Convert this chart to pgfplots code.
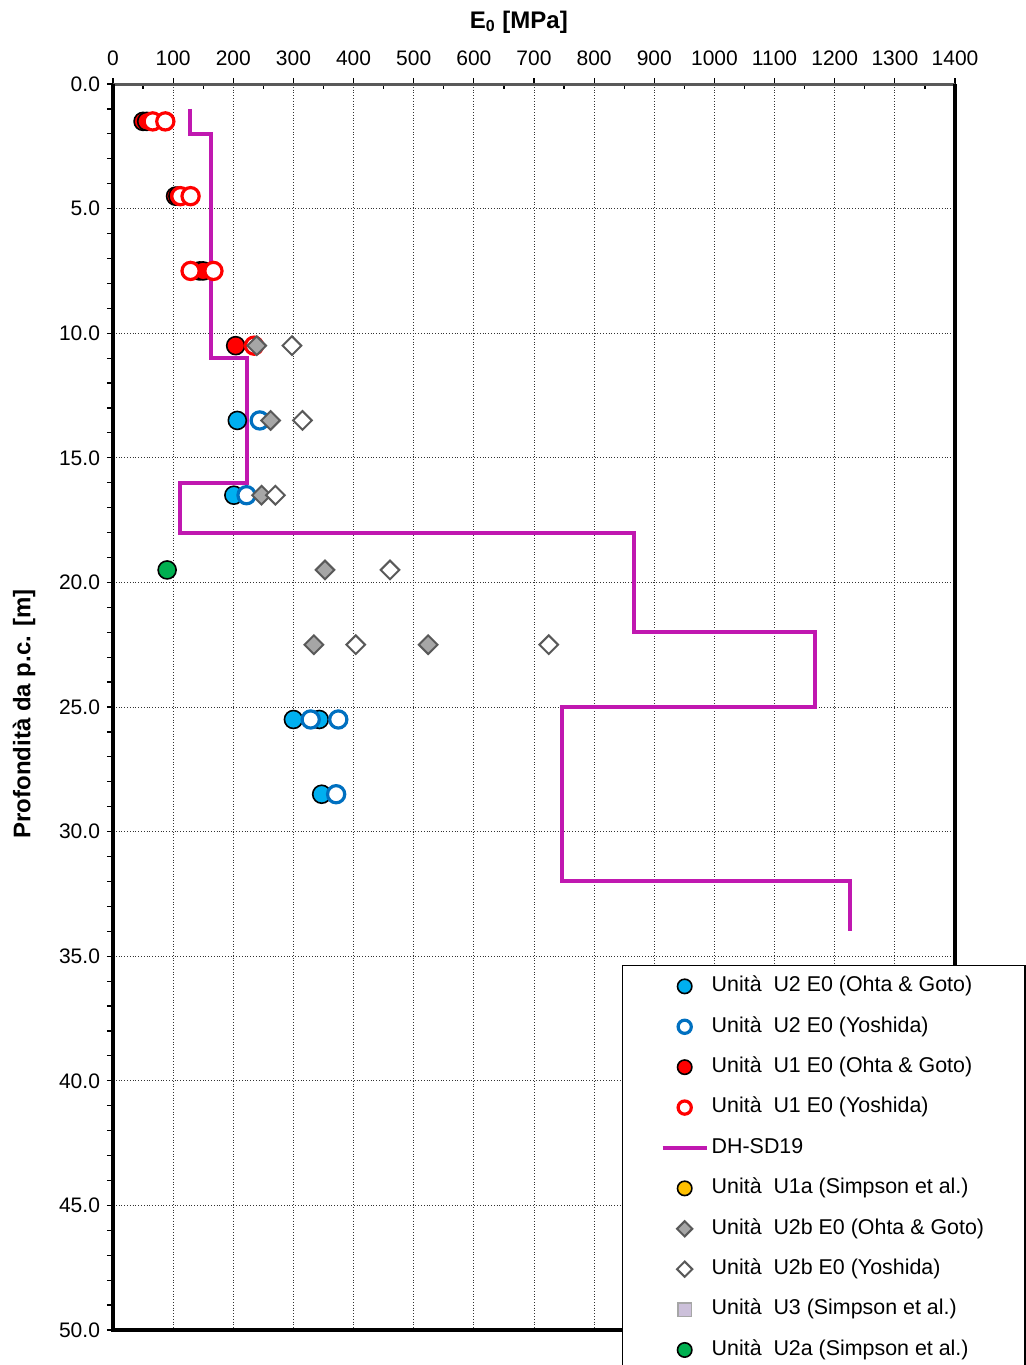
\documentclass[border=0pt]{standalone}
\usepackage{fontspec}
\setmainfont{Liberation Sans}
\usepackage{pgfplots}
\pgfplotsset{compat=1.18}

\definecolor{cyanfill}{RGB}{0,176,240}
\definecolor{blueedge}{RGB}{0,112,192}
\definecolor{dhline}{RGB}{192,24,176}
\definecolor{u1afill}{RGB}{255,192,0}
\definecolor{u2afill}{RGB}{0,176,80}
\definecolor{u3fill}{RGB}{204,192,218}
\definecolor{dgray}{RGB}{89,89,89}
\definecolor{mgray}{RGB}{166,166,166}

\pgfplotsset{
  legend image code/.code={\draw[mark repeat=2,mark phase=2,#1] plot coordinates {(0pt,0pt) (11pt,0pt) (22pt,0pt)};},
  filledc/.style={only marks, mark=*, mark size=4.5pt, mark options={draw=black, line width=0.8pt, fill=#1},
    legend image post style={mark size=3.6pt}},
  openc/.style={only marks, mark=*, mark size=4.3pt, mark options={draw=#1, line width=1.6pt, fill=white},
    legend image post style={mark size=3.3pt}},
  diam/.style={only marks, mark=square*, mark size=3.3pt, mark options={rotate=45, draw=dgray, line width=1pt, fill=#1},
    legend image post style={mark size=2.7pt}},
}

\begin{document}
\begin{tikzpicture}
\begin{axis}[
  scale only axis,
  width=421pt, height=623pt,
  xmin=0, xmax=1400, ymin=0, ymax=50,
  y dir=reverse,
  clip=false,
  xtick={0,100,...,1400},
  ytick={0,5,...,50},
  minor y tick num=4,
  xtick pos=upper, xticklabel pos=upper,
  ytick pos=left,
  tick align=outside,
  major tick length=3pt, minor tick length=3pt,
  tick style={black, line width=0.6pt},
  extra x ticks={50,150,...,1350},
  extra x tick labels={},
  extra x tick style={major tick length=2.5pt, tick align=inside, grid=none},
  axis line style={draw=none},
  grid=major,
  grid style={densely dotted, black!80, line width=0.5pt},
  /pgf/number format/assume math mode=true,
  /pgf/number format/1000 sep={},
  ticklabel style={font=\fontsize{10.5}{12}\selectfont},
  xticklabel style={yshift=2.5pt},
  yticklabel style={/pgf/number format/.cd, fixed, fixed zerofill, precision=1},
  every axis x label/.style={at={(axis description cs:0.482,1)}, yshift=31pt, anchor=center,
    font=\fontsize{12}{14}\selectfont\bfseries},
  every axis y label/.style={at={(axis description cs:0,0.4944)}, xshift=-44.5pt, rotate=90, anchor=center,
    font=\fontsize{12}{14}\selectfont\bfseries},
  xlabel={E\textsubscript{0} [MPa]},
  ylabel={Profondità da p.c. [m]},
  legend cell align=left,
  legend style={at={(0.6045,0.2929)}, anchor=north west, draw=black, line width=0.7pt, fill=white,
    font=\fontsize{10.7}{12}\selectfont, inner xsep=19pt, inner ysep=3.8pt, row sep=7.2pt,
    nodes={inner sep=1.5pt, text height=7.7pt, text depth=2.3pt, anchor=west}},
]
% profilo DH-SD19 (disegnato sotto i punti)
\addplot[dhline, line width=2pt, forget plot] coordinates {
  (128,1) (128,2) (163,2) (163,11) (223,11) (223,16) (111,16) (111,18)
  (866,18) (866,22) (1167,22) (1167,25) (747,25) (747,32) (1225,32) (1225,34)};

\addplot[filledc=cyanfill] coordinates {(206.7,13.5) (201,16.5) (300,25.5) (343,25.5) (347,28.5)};
\addlegendentry{Unità\ \ U2 E0 (Ohta \& Goto)}
\addplot[openc=blueedge] coordinates {(244,13.5) (222,16.5) (328.7,25.5) (374.6,25.5) (371,28.5)};
\addlegendentry{Unità\ \ U2 E0 (Yoshida)}
\addplot[filledc=red] coordinates {(50,1.5) (56,1.5) (104,4.5) (108,4.5) (144,7.5) (150,7.5) (204,10.5)};
\addlegendentry{Unità\ \ U1 E0 (Ohta \& Goto)}
\addplot[openc=red] coordinates {(66,1.5) (87,1.5) (112,4.5) (129,4.5) (129,7.5) (167,7.5) (234.5,10.5)};
\addlegendentry{Unità\ \ U1 E0 (Yoshida)}
\addlegendimage{dhline, line width=2pt}
\addlegendentry{DH-SD19}
\addlegendimage{filledc=u1afill}
\addlegendentry{Unità\ \ U1a (Simpson et al.)}
\addplot[diam=mgray] coordinates {(239,10.5) (262,13.5) (247,16.5) (352.5,19.5) (334,22.5) (524,22.5)};
\addlegendentry{Unità\ \ U2b E0 (Ohta \& Goto)}
\addplot[diam=white] coordinates {(297.6,10.5) (315,13.5) (270,16.5) (460.6,19.5) (403.6,22.5) (724.5,22.5)};
\addlegendentry{Unità\ \ U2b E0 (Yoshida)}
\addlegendimage{only marks, mark=square*, mark size=3.4pt, mark options={draw=mgray, line width=0.8pt, fill=u3fill}}
\addlegendentry{Unità\ \ U3 (Simpson et al.)}
\addplot[filledc=u2afill] coordinates {(90,19.5)};
\addlegendentry{Unità\ \ U2a (Simpson et al.)}

% cornice
\draw[gray!70!black, line width=1.5pt] (axis cs:0,0) -- (axis cs:1400,0);
\draw[black, line width=2pt, line join=miter] (axis cs:0,0) -- (axis cs:0,50) -- (axis cs:1400,50) -- (axis cs:1400,0);
\end{axis}
\pgfresetboundingbox
\path[use as bounding box] (-56.5pt,-17.5pt) rectangle (456.5pt,665pt);
\end{tikzpicture}
\end{document}
